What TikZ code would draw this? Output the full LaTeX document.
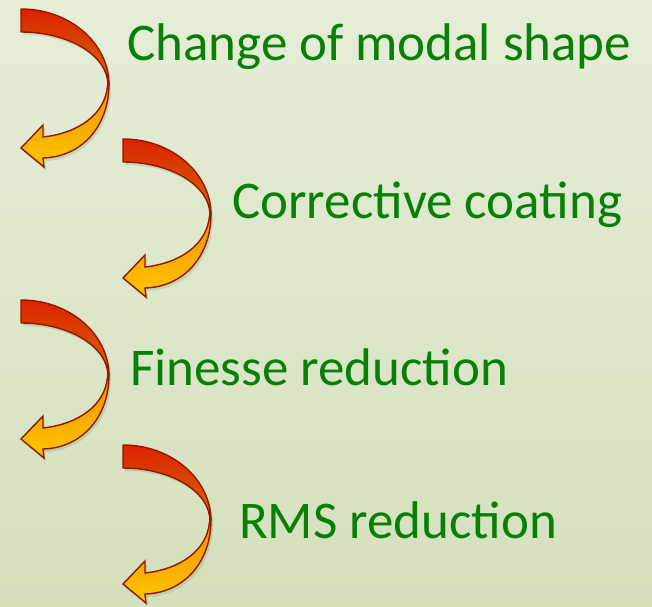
\documentclass[tikz,border=0pt]{standalone}
\usepackage{fontspec}
\setmainfont{Carlito}
\usepackage{tikz}

\definecolor{bgtop}{RGB}{229,237,215}
\definecolor{bgbot}{RGB}{212,224,188}
\definecolor{txtgreen}{RGB}{8,128,8}
\definecolor{arrred}{RGB}{220,34,0}
\definecolor{arrbrown}{RGB}{212,108,0}
\definecolor{arrorange}{RGB}{238,145,0}
\definecolor{arrgold}{RGB}{255,198,0}
\definecolor{arredge}{RGB}{150,22,0}

\begin{document}
\begin{tikzpicture}[x=1pt, y=-1pt,
    stagetext/.style={font=\fontsize{53}{58}\selectfont, text=txtgreen, anchor=base west, inner sep=0pt},
    backhalf/.style ={draw=arredge, line width=1.4pt, line join=round, top color=arrred,    bottom color=arrbrown},
    fronthalf/.style={draw=arredge, line width=1.4pt, line join=miter, top color=arrorange, bottom color=arrgold},
    dropshade/.style={fill=black!70!green, opacity=0.12},
    turnarrow/.pic={
        % soft shadow under the ribbon
        \path[dropshade, shift={(2,3)}] (0,0) .. controls (48.6,0) and (88,34) .. (88,76)
            .. controls (88,118) and (60,148) .. (22,149) -- (23,158) -- (0,139) -- (22,116) -- (22,128)
            .. controls (58,124) and (84,105) .. (87,76) .. controls (87,46.7) and (48,23) .. (0,23) -- cycle;
        % lower half with the head
        \path[fronthalf] (88,75) .. controls (88,118) and (60,148) .. (22,149)
            -- (23,158) -- (0,139) -- (22,116) -- (22,128)
            .. controls (58,124) and (84,105) .. (86.5,77) -- cycle;
        % upper half, the back of the ribbon
        \path[backhalf] (0,0) .. controls (48.6,0) and (88,34) .. (88,76)
            -- (87,76) .. controls (87,46.7) and (48,23) .. (0,23) -- cycle;
    }
]
% background
\useasboundingbox (0,0) rectangle (652,606);
\shade[top color=bgtop, bottom color=bgbot] (0,0) rectangle (652,606);

% turning arrows
\pic at (21,9)    {turnarrow};
\pic at (123,139) {turnarrow};
\pic at (21,300)  {turnarrow};
\pic at (123,445) {turnarrow};

% stages
\node[stagetext] (chg)  at (127,60)  {Change of modal shape};
\node[stagetext] (coat) at (232,218) {Corrective coating};
\node[stagetext] (fin)  at (130,385) {Finesse reduction};
\node[stagetext] (rms)  at (239,538) {RMS reduction};
\end{tikzpicture}
\end{document}
